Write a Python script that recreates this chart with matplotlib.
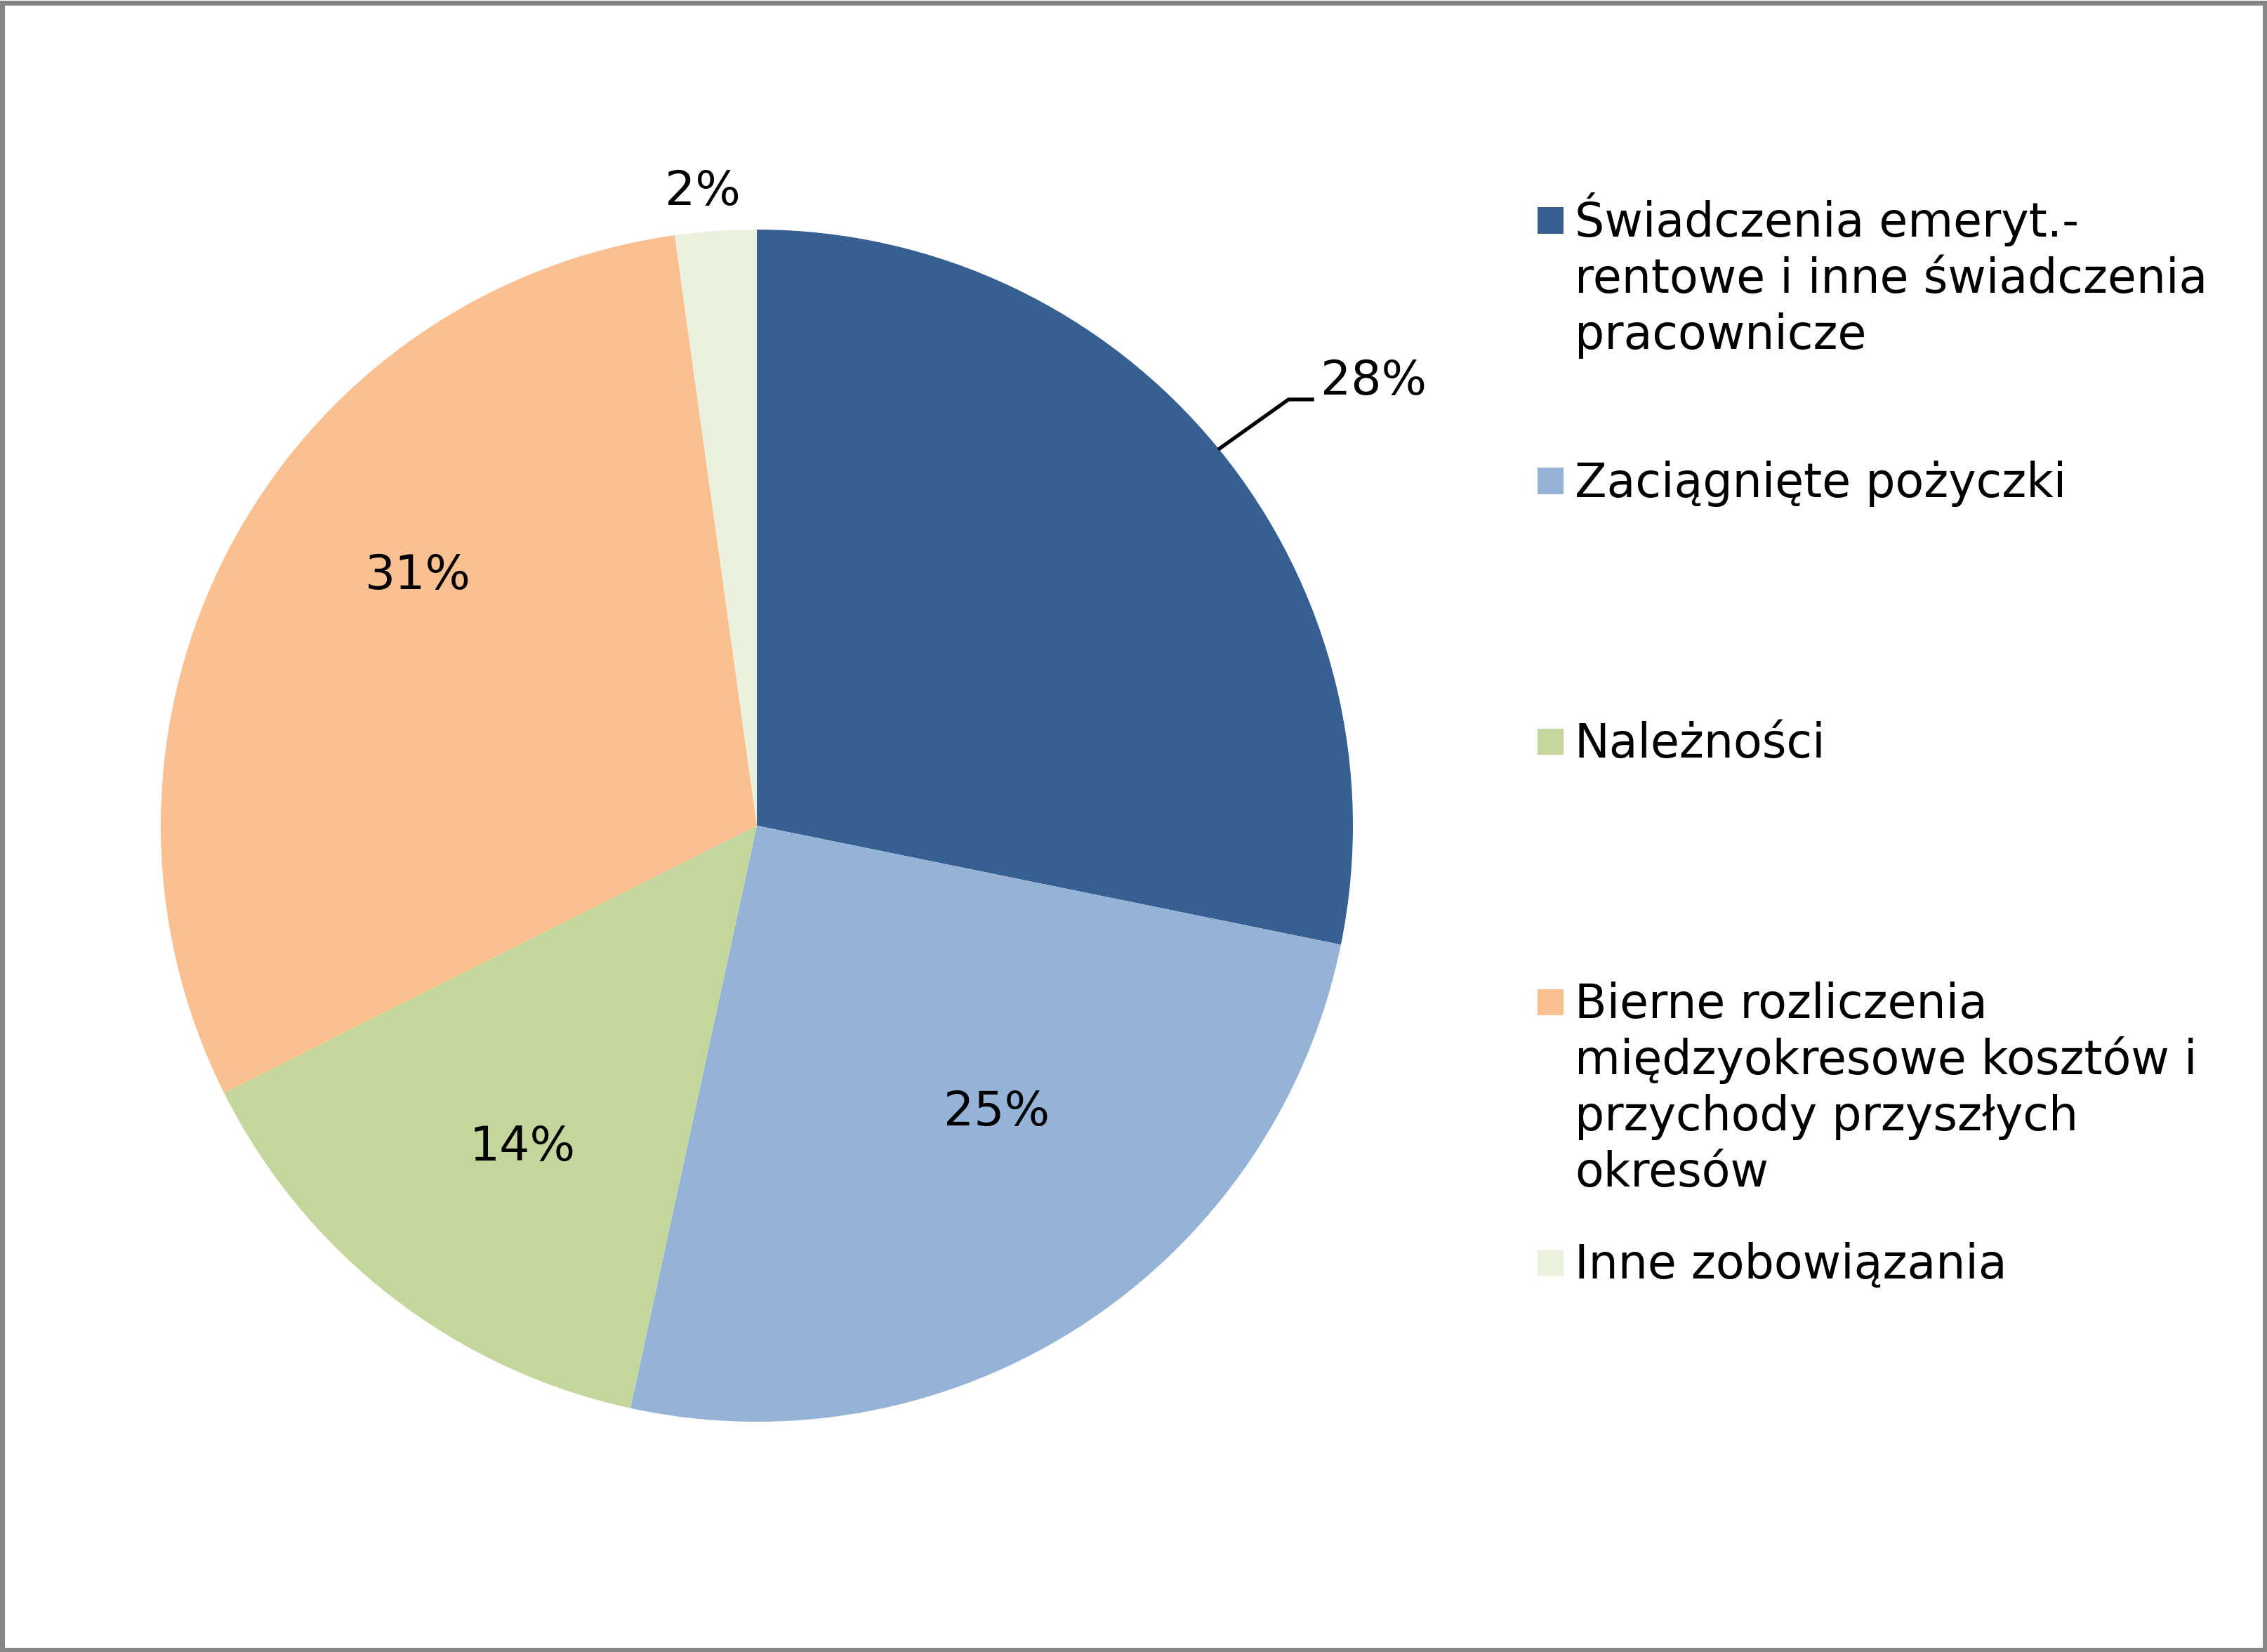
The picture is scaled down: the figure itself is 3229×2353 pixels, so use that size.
import numpy as np
import matplotlib
matplotlib.use('Agg')
from matplotlib import pyplot as plt
from matplotlib.patches import Rectangle

# data
categories = ['Świadczenia emeryt.-\nrentowe i inne świadczenia\npracownicze',
              'Zaciągnięte pożyczki',
              'Należności',
              'Bierne rozliczenia\nmiędzyokresowe kosztów i\nprzychody przyszłych\nokresów',
              'Inne zobowiązania']
shares = [28.2, 25.2, 14.2, 30.2, 2.2]
pct_labels = ['28%', '25%', '14%', '31%', '2%']
colors = ['#376092', '#95b3d7', '#c3d69b', '#fac090', '#ebf1de']

# label positions in pie units (radius = 1)
label_pos = [(1.035, 0.746), (0.402, -0.481), (-0.393, -0.539), (-0.569, 0.419), (-0.091, 1.064)]
leader = [(0.774, 0.631), (0.892, 0.715), (0.935, 0.715)]

W, H = 3230, 2353
fig = plt.figure(figsize=(W / 100, H / 100), dpi=100)
fig.patch.set_facecolor('white')

cx, cy, r = 1078, 1176, 849
ax = fig.add_axes([(cx - r) / W, (H - cy - r) / H, 2 * r / W, 2 * r / H])
wedges, _ = ax.pie(shares, colors=colors, startangle=90, counterclock=False,
                   radius=1, wedgeprops=dict(linewidth=0))
ax.set_xlim(-1, 1)
ax.set_ylim(-1, 1)
ax.set_aspect('equal')
ax.axis('off')

for (x, y), t in zip(label_pos, pct_labels):
  ax.text(x, y, t, ha='center', va='center', fontsize=49, color='black')
lx, ly = zip(*leader)
ax.plot(lx, ly, color='black', linewidth=3.8, solid_capstyle='butt', clip_on=False)

# legend drawn by hand: Excel spaces entries evenly by their first line
first_base = 337
entry_step = 371
line_step = 80
for i, (lab, w) in enumerate(zip(categories, wedges)):
  base = first_base + i * entry_step
  fig.patches.append(Rectangle(((2190) / W, 1 - (base - 23 + 18.5) / H), 37 / W, 37 / H,
                               transform=fig.transFigure, facecolor=w.get_facecolor(),
                               edgecolor='none'))
  for k, line in enumerate(lab.split('\n')):
    fig.text(2243 / W, 1 - (base + k * line_step) / H, line, ha='left', va='baseline',
             fontsize=48, color='black')

# chart area border
fig.patches.append(Rectangle((3.5 / W, 3.5 / H), 1 - 7 / W, 1 - 7 / H, transform=fig.transFigure,
                             fill=False, edgecolor='#868686', linewidth=5))

fig.savefig('out.png', dpi=100)
